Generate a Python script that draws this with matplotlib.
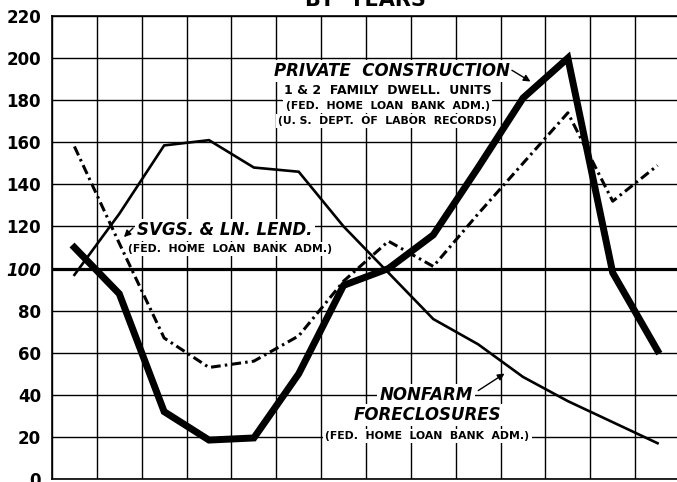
import numpy as np
import matplotlib
matplotlib.use('Agg')
import matplotlib.pyplot as plt

# column index (one column per year) (index, 100 = base)
columns = np.arange(14)
construction = [110, 88, 32, 18.5, 19.5, 50, 92, 100, 116, 148, 181, 200, 98, 61]
foreclosures = [97, 126, 158.5, 161, 148, 146, 120, 98, 76, 64, 48.5, 37, 27, 17]
savings_loans = [158, 112, 67, 53, 56, 68, 94, 113, 101, 126, 150, 174, 132, 149]
yticks = list(range(0, 221, 20))

plt.rcParams['font.family'] = ['DejaVu Sans']
plt.rcParams['lines.scale_dashes'] = False

fig = plt.figure(figsize=(6.77, 4.82), dpi=100)
ax = fig.add_axes([52 / 677, 3 / 482, 628 / 677, 463 / 482])

ax.set_xlim(0, 14)
ax.set_ylim(0, 220)
ax.set_xticks(range(15))
ax.set_yticks(yticks)
ax.grid(True, color='black', lw=1.0)
ax.set_axisbelow(True)
ax.tick_params(length=0, labelbottom=False, pad=8)
ax.set_yticklabels([str(v) for v in yticks], fontsize=12, fontweight='bold')
for lab in ax.get_yticklabels():
    if lab.get_text() == '100':
        lab.set_style('italic')
for s in ax.spines.values():
    s.set_linewidth(1.2)
ax.spines['right'].set_visible(False)
ax.axhline(100, color='black', lw=2.3, zorder=2)

x = columns + 0.5
ax.plot(x, foreclosures, color='black', lw=1.9, solid_joinstyle='miter', zorder=4)
ax.plot(x, savings_loans, color='black', lw=2.2, dashes=(7, 3, 1.8, 3), zorder=4)
ax.plot(x, construction, color='black', lw=5, solid_joinstyle='miter', zorder=5)

white = dict(facecolor='white', edgecolor='none', pad=1.5)
big = dict(fontsize=12, fontweight='bold', style='italic', zorder=3)
small = dict(fontsize=7.8, fontweight='bold', zorder=3)

# private construction label block
ax.text(4.95, 193.9, 'PRIVATE  CONSTRUCTION', ha='left', va='center', bbox=white, **big)
ax.text(7.48, 184.4, '1 & 2  FAMILY  DWELL.  UNITS', ha='center', va='center',
        fontsize=9, fontweight='bold', bbox=white, zorder=3)
ax.text(7.48, 177.2, '(FED.  HOME  LOAN  BANK  ADM.)', ha='center', va='center', bbox=white, **small)
ax.text(7.48, 170.1, '(U. S.  DEPT.  OF  LABOR  RECORDS)', ha='center', va='center', bbox=white, **small)
ax.annotate('', xy=(10.72, 188.2), xytext=(10.2, 194.9),
            arrowprops=dict(arrowstyle='-|>', color='black', lw=1, mutation_scale=10), zorder=6)

# savings and loan label block
ax.text(1.9, 118.3, 'SVGS. & LN. LEND.', ha='left', va='center', bbox=white, **big)
ax.text(1.7, 109.3, '(FED.  HOME  LOAN  BANK  ADM.)', ha='left', va='center', bbox=white, **small)
ax.annotate('', xy=(1.56, 114), xytext=(1.85, 120.2),
            arrowprops=dict(arrowstyle='-|>', color='black', lw=1, mutation_scale=10), zorder=6)

# foreclosures label block
ax.text(8.34, 39.9, 'NONFARM', ha='center', va='center', bbox=white, **big)
ax.text(8.37, 30.4, 'FORECLOSURES', ha='center', va='center', bbox=white, **big)
ax.text(8.37, 20.4, '(FED.  HOME  LOAN  BANK  ADM.)', ha='center', va='center', bbox=white, **small)
ax.annotate('', xy=(10.14, 50.8), xytext=(9.45, 41.3),
            arrowprops=dict(arrowstyle='-|>', color='black', lw=1, mutation_scale=10), zorder=6)

fig.text(0.54, 1 - 6 / 482, 'BY  YEARS', ha='center', va='baseline', fontsize=15, fontweight='bold')

fig.savefig('out.png', dpi=100)
